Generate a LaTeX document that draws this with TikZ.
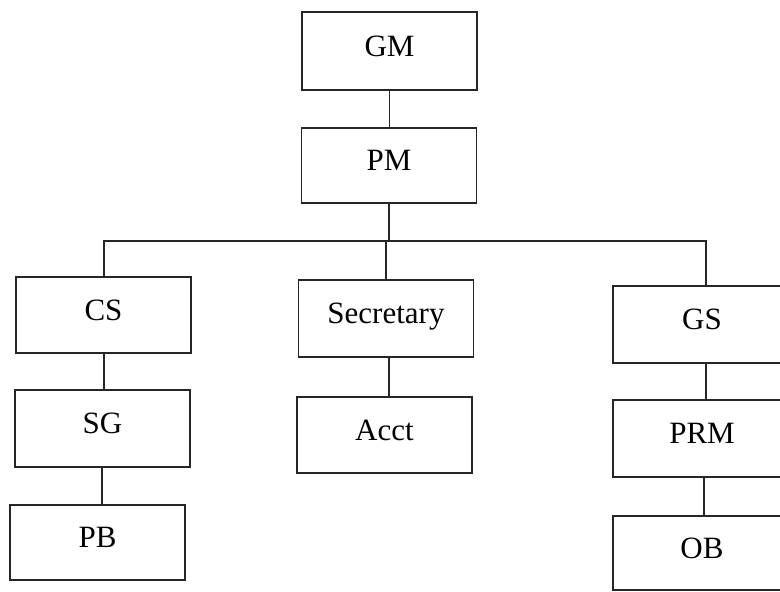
\documentclass[tikz,border=0pt]{standalone}
\usepackage{fontspec}
\setmainfont{Liberation Serif}
\begin{document}
\begin{tikzpicture}[x=1pt,y=-1pt,
  unit/.style={draw=black!85, line width=1.5pt, inner sep=0pt,
    minimum width=175pt, minimum height=76pt,
    font=\fontsize{31}{36}\selectfont, text height=21pt, text depth=11pt},
  link/.style={draw=black!85, line width=1.3pt}]
\useasboundingbox (0,0) rectangle (780,592);
\clip (0,0) rectangle (780,592);

% top management
\node[unit, minimum height=78pt] (gm) at (389.5,51) {GM};
\node[unit, minimum height=75pt] (pm) at (389,165.5) {PM};

% left branch
\node[unit] (cs) at (103.5,315) {CS};
\node[unit, minimum height=77pt] (sg) at (102.5,428.5) {SG};
\node[unit, minimum height=75pt] (pb) at (97.5,542.5) {PB};

% middle branch
\node[unit, minimum height=77pt] (sec) at (386,318.5) {Secretary};
\node[unit] (acct) at (384.5,435) {Acct};

% right branch
\node[unit, minimum width=178pt, minimum height=77pt] (gs) at (702,324.5) {GS};
\node[unit, minimum width=178pt, minimum height=77pt] (prm) at (702,438.5) {PRM};
\node[unit, minimum width=178pt, minimum height=74pt] (ob) at (702,553) {OB};

% distribution bus below PM
\coordinate (bus) at (388,241);

% connectors
\draw[link] (gm.south) -- (gm.south |- pm.north);
\draw[link] (pm.south) -- (pm.south |- bus);
\draw[link] (cs.north -| 104,0) |- (bus) -| (gs.north -| 706,0);
\draw[link] (sec.north) -- (sec.north |- bus);
\draw[link] (cs.south -| 104,0) -- (sg.north -| 104,0);
\draw[link] (sg.south -| 102,0) -- (pb.north -| 102,0);
\draw[link] (sec.south -| 389,0) -- (acct.north -| 389,0);
\draw[link] (gs.south -| 706,0) -- (prm.north -| 706,0);
\draw[link] (prm.south -| 704,0) -- (ob.north -| 704,0);
\end{tikzpicture}
\end{document}
